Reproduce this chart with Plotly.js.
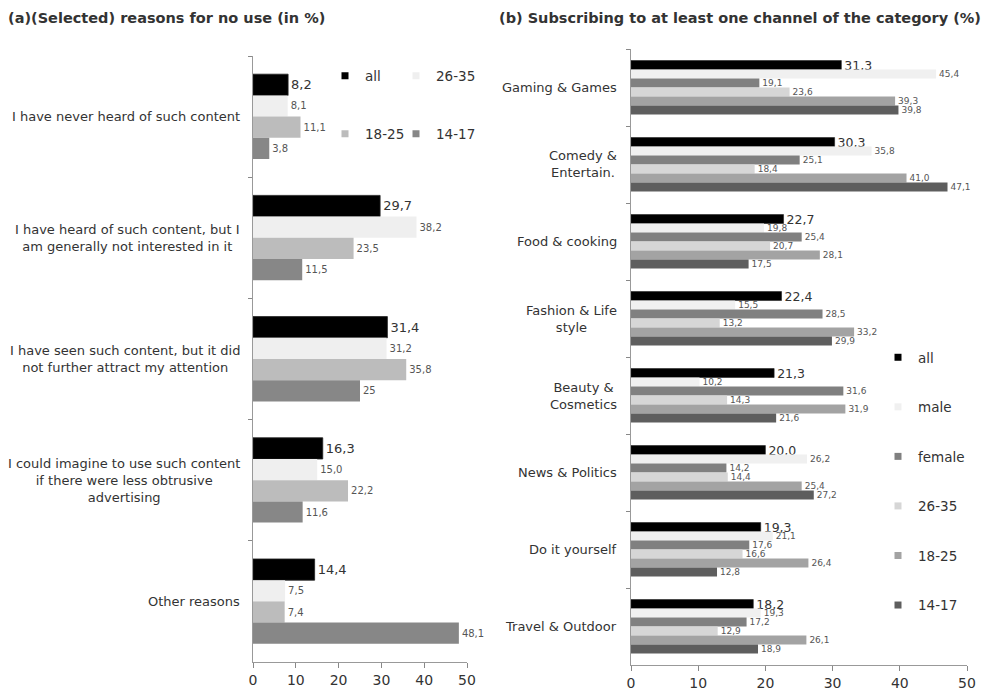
<!DOCTYPE html>
<html>
<head>
<meta charset="utf-8">
<script src="https://cdn.plot.ly/plotly-3.0.1.min.js"></script>
<style>html,body{margin:0;padding:0;background:#fff;}#chart{width:982px;height:690px;}</style>
</head>
<body>
<div id="chart"></div>
<script>
// ---------- Panel (a) data ----------
const leftCategories = [
  "I have never heard of such content",
  "I have heard of such content, but I<br>am generally not interested in it",
  "I have seen such content, but it did<br>not further attract my attention",
  "I could imagine to use such content<br>if there were less obtrusive<br>advertising",
  "Other reasons"
];
const leftSeriesNames = ["all", "26-35", "18-25", "14-17"];
const leftAll   = [8.2, 29.7, 31.4, 16.3, 14.4];
const left2635  = [8.1, 38.2, 31.2, 15.0, 7.5];
const left1825  = [11.1, 23.5, 35.8, 22.2, 7.4];
const left1417  = [3.8, 11.5, 25, 11.6, 48.1];

// ---------- Panel (b) data ----------
const rightCategories = [
  "Gaming & Games", "Comedy &<br>Entertain.", "Food & cooking", "Fashion & Life<br>style",
  "Beauty &<br>Cosmetics", "News & Politics", "Do it yourself", "Travel & Outdoor"
];
const rightSeriesNames = ["all", "male", "female", "26-35", "18-25", "14-17"];
const rightAll    = [31.3, 30.3, 22.7, 22.4, 21.3, 20.0, 19.3, 18.2];
const rightMale   = [45.4, 35.8, 19.8, 15.5, 10.2, 26.2, 21.1, 19.3];
const rightFemale = [19.1, 25.1, 25.4, 28.5, 31.6, 14.2, 17.6, 17.2];
const right2635   = [23.6, 18.4, 20.7, 13.2, 14.3, 14.4, 16.6, 12.9];
const right1825   = [39.3, 41.0, 28.1, 33.2, 31.9, 25.4, 26.4, 26.1];
const right1417   = [39.8, 47.1, 17.5, 29.9, 21.6, 27.2, 12.8, 18.9];

const xTicks = [0, 10, 20, 30, 40, 50];

// ---------- styling ----------
const FONT = "DejaVu Sans, Verdana, sans-serif";
const fmt = v => (v === 25 ? "25" : v.toFixed(1).replace(".", ","));

const leftColors  = ["#000000", "#efefef", "#bcbcbc", "#878787"];
const rightColors = ["#000000", "#f0f0f0", "#808080", "#d6d6d6", "#a3a3a3", "#5e5e5e"];

const leftVals  = [leftAll, left2635, left1825, left1417];
const rightVals = [rightAll, rightMale, rightFemale, right2635, right1825, right1417];
const leftLegends = ["legend", "legend4", "legend3", "legend5"];

const traces = [];
leftVals.forEach((vals, i) => {
  traces.push({
    type: "bar", orientation: "h",
    x: vals, y: leftCategories.map((c, k) => k),
    name: leftSeriesNames[i], showlegend: false,
    marker: {color: leftColors[i], line: {width: i === 0 ? 0.8 : 0, color: "#222"}},
    text: vals.map(fmt), textposition: "outside", constraintext: "none", cliponaxis: false,
    textfont: {family: FONT, size: i === 0 ? 13 : 10, color: i === 0 ? "#333" : "#555"},
    xaxis: "x", yaxis: "y", hoverinfo: "x+name"
  });
});
rightVals.forEach((vals, i) => {
  traces.push({
    type: "bar", orientation: "h",
    x: vals, y: rightCategories.map((c, k) => k),
    name: rightSeriesNames[i], showlegend: false,
    marker: {color: rightColors[i], line: {width: i === 0 ? 0.6 : 0, color: "#222"}},
    text: vals.map(fmt), textposition: "outside", constraintext: "none", cliponaxis: false,
    textfont: {family: FONT, size: i === 0 ? 12.5 : 9, color: i === 0 ? "#333" : "#555"},
    xaxis: "x2", yaxis: "y2", hoverinfo: "x+name"
  });
});
// legend entries (small square keys, as in the reference)
leftSeriesNames.forEach((n, i) => traces.push({
  type: "scatter", mode: "markers", x: [null], y: [null], name: n,
  marker: {symbol: "square", size: 7, color: leftColors[i]},
  xaxis: "x", yaxis: "y", legend: leftLegends[i], hoverinfo: "skip"
}));
rightSeriesNames.forEach((n, i) => traces.push({
  type: "scatter", mode: "markers", x: [null], y: [null], name: n, legendgroup: "g" + i,
  marker: {symbol: "square", size: 7, color: rightColors[i]},
  xaxis: "x2", yaxis: "y2", legend: "legend2", hoverinfo: "skip"
}));

const W = 982, H = 690;
const px = v => v / W, py = v => 1 - v / H;

const annotations = [
  {text: "<b>(a)(Selected) reasons for no use (in %)</b>", xref: "paper", yref: "paper",
   x: px(6), y: py(18), xanchor: "left", yanchor: "middle", showarrow: false,
   font: {family: FONT, size: 14.5, color: "#333"}},
  {text: "<b>(b) Subscribing to at least one channel of the category (%)</b>", xref: "paper", yref: "paper",
   x: px(497), y: py(18), xanchor: "left", yanchor: "middle", showarrow: false,
   font: {family: FONT, size: 14.5, color: "#333"}}
];
leftCategories.forEach((c, k) => annotations.push({
  text: c, xref: "paper", yref: "y", x: px(242), y: k, xanchor: "right", yanchor: "middle",
  align: "center", showarrow: false, font: {family: FONT, size: 13, color: "#333"}
}));
rightCategories.forEach((c, k) => annotations.push({
  text: c, xref: "paper", yref: "y2", x: px(619), y: k, xanchor: "right", yanchor: "middle",
  align: "center", showarrow: false, font: {family: FONT, size: 13, color: "#333"}
}));

const xAxisCommon = {
  range: [0, 50], tickvals: xTicks, ticks: "outside", ticklen: 5, tickcolor: "#888",
  showline: true, linecolor: "#999", linewidth: 1, showgrid: false, zeroline: false,
  tickfont: {family: FONT, size: 14, color: "#333"}, automargin: false, fixedrange: true
};
const yAxisCommon = {
  type: "category", autorange: "reversed", showticklabels: false, ticks: "outside", ticklen: 4,
  tickcolor: "#888", tickson: "boundaries", showline: true, linecolor: "#999", linewidth: 1,
  showgrid: false, zeroline: false, automargin: false, fixedrange: true
};

const legendCommon = {
  orientation: "h", bgcolor: "rgba(0,0,0,0)", font: {family: FONT, size: 13.5, color: "#333"},
  itemwidth: 30, xanchor: "left", yanchor: "middle",
  itemclick: false, itemdoubleclick: false
};

const layout = {
  width: W, height: H,
  margin: {l: 0, r: 0, t: 0, b: 0},
  paper_bgcolor: "#fff", plot_bgcolor: "#fff",
  barmode: "group", bargap: 0.3, bargroupgap: 0,
  showlegend: true,
  xaxis: Object.assign({}, xAxisCommon, {domain: [px(253), px(467)], anchor: "y"}),
  yaxis: Object.assign({}, yAxisCommon, {domain: [py(662), py(56)], anchor: "x"}),
  xaxis2: Object.assign({}, xAxisCommon, {domain: [px(631), px(967)], anchor: "y2"}),
  yaxis2: Object.assign({}, yAxisCommon, {domain: [py(665), py(49)], anchor: "x2"}),
  legend:  Object.assign({}, legendCommon, {x: px(325), y: py(76)}),
  legend4: Object.assign({}, legendCommon, {x: px(396), y: py(76)}),
  legend3: Object.assign({}, legendCommon, {x: px(325), y: py(134)}),
  legend5: Object.assign({}, legendCommon, {x: px(396), y: py(134)}),
  legend2: {orientation: "v", bgcolor: "rgba(0,0,0,0)", font: {family: FONT, size: 13.5, color: "#333"},
            itemwidth: 30, x: px(878), y: py(342), xanchor: "left", yanchor: "top",
            tracegroupgap: 29, traceorder: "grouped", itemclick: false, itemdoubleclick: false},
  annotations: annotations
};

Plotly.newPlot("chart", traces, layout, {displayModeBar: false, staticPlot: true});
</script>
</body>
</html>
